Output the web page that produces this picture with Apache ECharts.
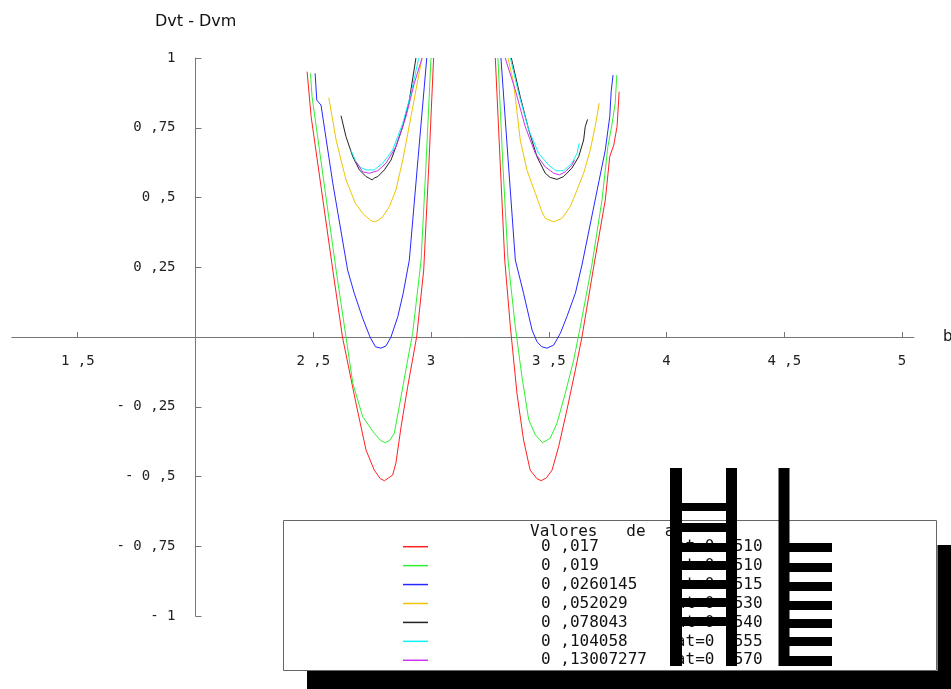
<!DOCTYPE html>
<html><head><meta charset="utf-8">
<script src="https://cdn.jsdelivr.net/npm/echarts@6/dist/echarts.min.js"></script>
<style>html,body{margin:0;padding:0;background:#fff}#c{width:951px;height:689px}</style>
</head><body><div id="c"></div>
<script>
// legend values
const aValues = ['0,017','0,019','0,0260145','0,052029','0,078043','0,104058','0,13007277'];
const atValues = ['0,510','0,510','0,515','0,530','0,540','0,555','0,570'];
const colors = ['#ff2020','#30f030','#2828ff','#eec400','#222222','#10f0f0','#cc33ee'];
const xTickValues = [1.5,2,2.5,3,3.5,4,4.5,5];
const xLabelValues = [1.5,2.5,3,3.5,4,4.5,5];

// curves: left well (1) and right well (2) for each value of a
const red1 = [[2.474,0.951],[2.491,0.790],[2.583,0.240],[2.624,0.0],[2.682,-0.24],[2.724,-0.405],[2.759,-0.477],[2.785,-0.508],[2.802,-0.515],[2.820,-0.505],[2.837,-0.495],[2.851,-0.452],[2.873,-0.321],[2.901,-0.178],[2.939,0.0],[2.969,0.240],[2.991,0.62],[3.011,1.0]];
const red2 = [[3.273,1.0],[3.294,0.62],[3.313,0.276],[3.337,0.037],[3.365,-0.202],[3.393,-0.369],[3.421,-0.477],[3.450,-0.508],[3.468,-0.515],[3.490,-0.505],[3.514,-0.477],[3.542,-0.393],[3.577,-0.262],[3.613,-0.118],[3.641,0.0],[3.692,0.258],[3.740,0.491],[3.759,0.646],[3.776,0.688],[3.790,0.754],[3.799,0.879]];
const green1 = [[2.488,0.945],[2.495,0.861],[2.597,0.240],[2.639,0.0],[2.668,-0.166],[2.710,-0.286],[2.759,-0.345],[2.785,-0.37],[2.806,-0.379],[2.825,-0.37],[2.844,-0.345],[2.865,-0.250],[2.901,-0.082],[2.922,0.013],[2.958,0.276],[2.980,0.64],[3.000,1.0]];
const green2 = [[3.284,1.0],[3.305,0.62],[3.327,0.276],[3.358,0.037],[3.386,-0.142],[3.415,-0.297],[3.443,-0.351],[3.474,-0.379],[3.506,-0.363],[3.535,-0.309],[3.570,-0.202],[3.606,-0.082],[3.634,0.037],[3.683,0.258],[3.726,0.491],[3.751,0.682],[3.768,0.760],[3.782,0.838],[3.789,0.939]];
const blue1 = [[2.508,0.945],[2.515,0.849],[2.533,0.831],[2.583,0.551],[2.646,0.240],[2.674,0.157],[2.710,0.067],[2.741,0.0],[2.764,-0.035],[2.788,-0.040],[2.809,-0.032],[2.830,0.0],[2.859,0.073],[2.882,0.157],[2.908,0.276],[2.945,0.64],[2.982,1.0]];
const blue2 = [[3.297,1.0],[3.327,0.64],[3.358,0.276],[3.393,0.157],[3.429,0.025],[3.450,-0.017],[3.470,-0.035],[3.492,-0.040],[3.521,-0.029],[3.549,0.013],[3.577,0.073],[3.613,0.157],[3.641,0.258],[3.697,0.491],[3.740,0.670],[3.759,0.790],[3.765,0.879],[3.773,0.939]];
const yellow1 = [[2.566,0.858],[2.597,0.706],[2.639,0.563],[2.679,0.479],[2.710,0.443],[2.745,0.417],[2.759,0.413],[2.775,0.418],[2.795,0.431],[2.823,0.467],[2.851,0.527],[2.880,0.634],[2.915,0.790],[2.944,0.921],[2.962,1.0]];
const yellow2 = [[3.327,1.0],[3.351,0.909],[3.379,0.706],[3.407,0.599],[3.443,0.515],[3.471,0.449],[3.485,0.425],[3.521,0.413],[3.556,0.425],[3.591,0.467],[3.620,0.527],[3.648,0.587],[3.676,0.670],[3.697,0.754],[3.714,0.838]];
const black1 = [[2.618,0.793],[2.639,0.718],[2.668,0.646],[2.696,0.599],[2.724,0.575],[2.740,0.568],[2.750,0.563],[2.760,0.570],[2.774,0.575],[2.802,0.599],[2.830,0.634],[2.851,0.682],[2.880,0.754],[2.908,0.849],[2.936,1.0]];
const black2 = [[3.341,1.0],[3.379,0.861],[3.415,0.742],[3.450,0.646],[3.485,0.587],[3.506,0.572],[3.535,0.565],[3.563,0.575],[3.598,0.605],[3.627,0.646],[3.648,0.706],[3.655,0.754],[3.665,0.780]];
const cyan1 = [[2.660,0.670],[2.682,0.628],[2.700,0.608],[2.724,0.599],[2.759,0.599],[2.795,0.623],[2.837,0.670],[2.880,0.766],[2.915,0.873],[2.948,1.0]];
const cyan2 = [[3.337,1.0],[3.372,0.873],[3.415,0.742],[3.457,0.658],[3.500,0.616],[3.531,0.596],[3.563,0.596],[3.598,0.623],[3.620,0.658],[3.629,0.694]];
const magenta1 = [[2.682,0.628],[2.710,0.592],[2.738,0.587],[2.774,0.596],[2.809,0.623],[2.851,0.682],[2.894,0.790],[2.929,0.909],[2.962,1.0]];
const magenta2 = [[3.315,1.0],[3.358,0.885],[3.400,0.754],[3.443,0.658],[3.485,0.610],[3.521,0.587],[3.545,0.581],[3.570,0.592],[3.598,0.616],[3.609,0.634]];

const wells = [[red1,red2],[green1,green2],[blue1,blue2],[yellow1,yellow2],[black1,black2],[cyan1,cyan2],[magenta1,magenta2]];

const MONO = 'DejaVu Sans Mono';
function fmtNum(v){
  const s = String(Math.abs(v)).replace('.', ' ,');
  return v < 0 ? '- ' + s : s;
}

const series = [];
wells.forEach((pair, i) => {
  pair.forEach(d => {
    series.push({
      type: 'line', name: aValues[i], data: d, symbol: 'none', clip: true,
      lineStyle: {width: 1, color: colors[i]}, itemStyle: {color: colors[i]},
      silent: true, animation: false, z: 2
    });
  });
});

const chart = echarts.init(document.getElementById('c'));
chart.setOption({
  animation: false,
  grid: {left: 11.8, right: 37.2, top: 58, bottom: 73, containLabel: false, outerBoundsMode: 'none'},
  xAxis: {
    type: 'value', min: 1.22, max: 5.05, position: 'bottom', offset: -279,
    axisLine: {onZero: false, lineStyle: {color: '#777', width: 1}},
    axisTick: {inside: true, length: 5, lineStyle: {color: '#777'}, customValues: xTickValues},
    axisLabel: {customValues: xLabelValues, margin: 17, fontFamily: MONO, fontSize: 14, color: '#222', formatter: v => fmtNum(v)},
    splitLine: {show: false}
  },
  yAxis: {
    type: 'value', min: -1, max: 1, interval: 0.25, offset: -183.7,
    axisLine: {show: true, onZero: false, lineStyle: {color: '#777', width: 1}},
    axisTick: {show: true, inside: true, length: 6, lineStyle: {color: '#777'}},
    axisLabel: {margin: 20, fontFamily: MONO, fontSize: 14, color: '#222', formatter: v => (Math.abs(v) < 1e-9 ? '' : fmtNum(v))},
    splitLine: {show: false}
  },
  legend: {
    data: aValues, orient: 'vertical', left: 403, top: 538.7, padding: 0,
    icon: 'rect', itemWidth: 25, itemHeight: 1.5, itemGap: 2.93, selectedMode: false,
    textStyle: {fontFamily: MONO, fontSize: 16, color: '#111', lineHeight: 16,
      rich: {a: {fontFamily: MONO, fontSize: 16, color: '#111', lineHeight: 16, padding: [0,0,0,108]}}},
    formatter: name => {
      const i = aValues.indexOf(name);
      const first = name.replace(',', ' ,').padEnd(14, ' ');
      return '{a|' + first + 'at=' + atValues[i].replace(',', ' ,') + '}';
    }
  },
  graphic: [
    {type: 'text', left: 155, top: 14, style: {text: 'Dvt - Dvm', font: '16px "DejaVu Sans"', fill: '#111'}},
    {type: 'text', x: 943, y: 337, style: {text: 'b', font: '15px "DejaVu Sans"', fill: '#111', verticalAlign: 'middle'}},
    {type: 'rect', shape: {x: 283.5, y: 520.5, width: 653, height: 150}, style: {fill: '#fff', stroke: '#666', lineWidth: 1}, z: 0},
    {type: 'text', x: 530, y: 531.5, style: {text: 'Valores   de  a', font: '16px "DejaVu Sans Mono"', fill: '#111', verticalAlign: 'middle'}, z: 5},
    // black shadow / block artifacts
    {type: 'rect', shape: {x: 307, y: 671, width: 644, height: 18}, style: {fill: '#000'}, z: 100},
    {type: 'rect', shape: {x: 937.5, y: 545, width: 14, height: 144}, style: {fill: '#000'}, z: 100},
    {type: 'rect', shape: {x: 670, y: 468, width: 12, height: 198}, style: {fill: '#000'}, z: 100},
    {type: 'rect', shape: {x: 726, y: 468, width: 11, height: 198}, style: {fill: '#000'}, z: 100},
    {type: 'rect', shape: {x: 778.5, y: 468, width: 11, height: 198}, style: {fill: '#000'}, z: 100},
    {type: 'rect', shape: {x: 682, y: 503, width: 44, height: 8}, style: {fill: '#000'}, z: 100},
    {type: 'rect', shape: {x: 682, y: 523, width: 44, height: 9}, style: {fill: '#000'}, z: 100},
    {type: 'rect', shape: {x: 682, y: 543, width: 44, height: 9}, style: {fill: '#000'}, z: 100},
    {type: 'rect', shape: {x: 682, y: 561, width: 44, height: 9}, style: {fill: '#000'}, z: 100},
    {type: 'rect', shape: {x: 682, y: 580, width: 44, height: 9}, style: {fill: '#000'}, z: 100},
    {type: 'rect', shape: {x: 682, y: 598, width: 44, height: 9}, style: {fill: '#000'}, z: 100},
    {type: 'rect', shape: {x: 682, y: 617, width: 44, height: 9}, style: {fill: '#000'}, z: 100},
    {type: 'rect', shape: {x: 789, y: 543, width: 43, height: 9}, style: {fill: '#000'}, z: 100},
    {type: 'rect', shape: {x: 789, y: 563, width: 43, height: 9}, style: {fill: '#000'}, z: 100},
    {type: 'rect', shape: {x: 789, y: 582, width: 43, height: 9}, style: {fill: '#000'}, z: 100},
    {type: 'rect', shape: {x: 789, y: 601, width: 43, height: 9}, style: {fill: '#000'}, z: 100},
    {type: 'rect', shape: {x: 789, y: 619, width: 43, height: 9}, style: {fill: '#000'}, z: 100},
    {type: 'rect', shape: {x: 789, y: 637, width: 43, height: 9}, style: {fill: '#000'}, z: 100},
    {type: 'rect', shape: {x: 789, y: 656, width: 43, height: 10}, style: {fill: '#000'}, z: 100}
  ],
  series: series
});
</script></body></html>
